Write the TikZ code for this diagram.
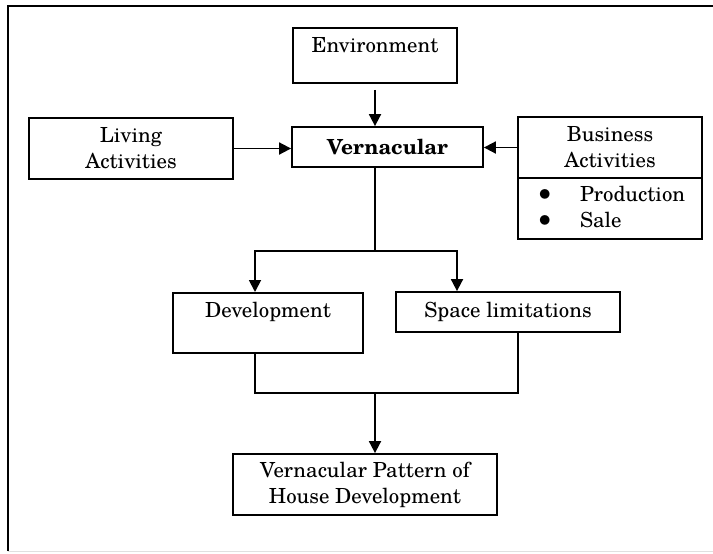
\documentclass[tikz,border=0pt]{standalone}
\usepackage{fontspec}
\setmainfont{texgyreschola}[Extension=.otf, UprightFont=*-regular, BoldFont=*-bold, ItalicFont=*-italic, BoldItalicFont=*-bolditalic]
\usetikzlibrary{arrows.meta,positioning}
\newcommand{\bizbullet}{\makebox[22pt][l]{\raisebox{-2pt}{\Large\textbullet}}}

\begin{document}
\begin{tikzpicture}[x=0.5pt, y=-0.5pt, font=\fontsize{10.4}{13}\selectfont,
    main/.style = {draw, line width=0.9pt, rectangle, align=center, inner sep=0pt},
    arr/.style = {line width=0.9pt, -{Triangle[length=6pt,width=6pt]}}]
    \useasboundingbox (0,0) rectangle (713,553);
    \draw[line width=1pt] (8,551) -- (8,6) -- (713,6);
    \draw[black!12] (8,551) -- (713,551);

    \node[main, anchor=north, minimum width=82pt, text height=12.5pt, text depth=15pt] (env) at (375,27) {Environment};
    \node[main, font=\fontsize{10.4}{13}\selectfont\bfseries, minimum width=95.5pt, minimum height=20pt] (vern) at (387.5,147) {Vernacular};
    \node[main, minimum width=102pt, minimum height=30.5pt] (living) at (131,148.5) {Living\\Activities};
    \node[main, minimum width=92pt, minimum height=30.5pt] (business) at (610,147.5) {Business\\Activities};
    \node[main, below=-0.9pt of business, minimum height=30.5pt, align=left, text width=74pt, inner xsep=9pt] (bizlist) {\bizbullet Production\\\bizbullet Sale};
    \node[main, anchor=north, minimum width=95pt, text height=12.5pt, text depth=17.5pt] (devt) at (268,292) {Development};
    \node[main, minimum width=112pt, minimum height=20pt] (space) at (508,312) {Space limitations};
    \node[main, minimum width=132pt, minimum height=30.5pt] (pattern) at (365,484.5) {Vernacular Pattern of\\House Development};

    \coordinate (split) at (375,251);
    \coordinate (merge) at (375,393);

    \draw[arr] ([yshift=-3pt]env.south) -- (vern.north -| env.south);
    \draw[arr] (living.east) -- (living.east -| vern.west);
    \draw[arr] (business.west) -- (business.west -| vern.east);

    \draw[line width=0.9pt] (vern.south -| split) -- (split);
    \draw[arr] (split) -| ([xshift=-6.5pt]devt.north);
    \draw[arr] (split) -| ([xshift=-25.5pt]space.north);

    \draw[line width=0.9pt] ([xshift=-6.5pt]devt.south) |- (merge);
    \draw[line width=0.9pt] ([xshift=5pt]space.south) |- (merge);
    \draw[arr] (merge) -- (merge |- pattern.north);
\end{tikzpicture}
\end{document}
